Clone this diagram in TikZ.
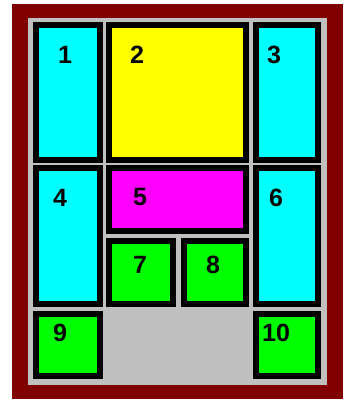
\documentclass[tikz,border=0pt]{standalone}
\usepackage{fontspec}
\setmainfont{Liberation Sans}
\definecolor{frame}{RGB}{128,0,0}
\definecolor{panel}{RGB}{192,192,192}
\definecolor{aqua}{RGB}{0,255,255}
\definecolor{lemon}{RGB}{255,255,0}
\definecolor{pink}{RGB}{255,0,255}
\definecolor{lime}{RGB}{0,255,0}
\tikzset{
  cell/.style={draw=black, line width=6pt},
  num/.style={inner sep=0pt, font=\bfseries\fontsize{25}{25}\selectfont}
}
\begin{document}
\begin{tikzpicture}[x=1pt, y=-1pt]
  \useasboundingbox (0,0) rectangle (348,401);
  % frame and panel
  \fill[frame] (12,4) rectangle (343,399);
  \fill[panel] (28,18) rectangle (327,385);

  % top row
  \draw[cell, fill=aqua] (36,25) rectangle (100,160);
  \draw[cell, fill=lemon] (109,25) rectangle (246,160);
  \draw[cell, fill=aqua] (256,25) rectangle (318,160);

  % middle
  \draw[cell, fill=aqua] (36,168) rectangle (100,304);
  \draw[cell, fill=pink] (109,168) rectangle (246,231);
  \draw[cell, fill=lime] (109,241) rectangle (173,304);
  \draw[cell, fill=lime] (184,241) rectangle (246,304);
  \draw[cell, fill=aqua] (256,168) rectangle (318,304);

  % bottom row
  \draw[cell, fill=lime] (36,314) rectangle (100,376);
  \draw[cell, fill=lime] (256,314) rectangle (318,376);

  \node[num] (n1) at (65,55) {1};
  \node[num] (n2) at (137,55) {2};
  \node[num] (n3) at (274,55) {3};
  \node[num] (n4) at (60,198) {4};
  \node[num] (n5) at (140,197) {5};
  \node[num] (n6) at (276,198) {6};
  \node[num] (n7) at (140,265) {7};
  \node[num] (n8) at (213,265) {8};
  \node[num] (n9) at (60,333) {9};
  \node[num] (n10) at (276,333) {10};
\end{tikzpicture}
\end{document}
